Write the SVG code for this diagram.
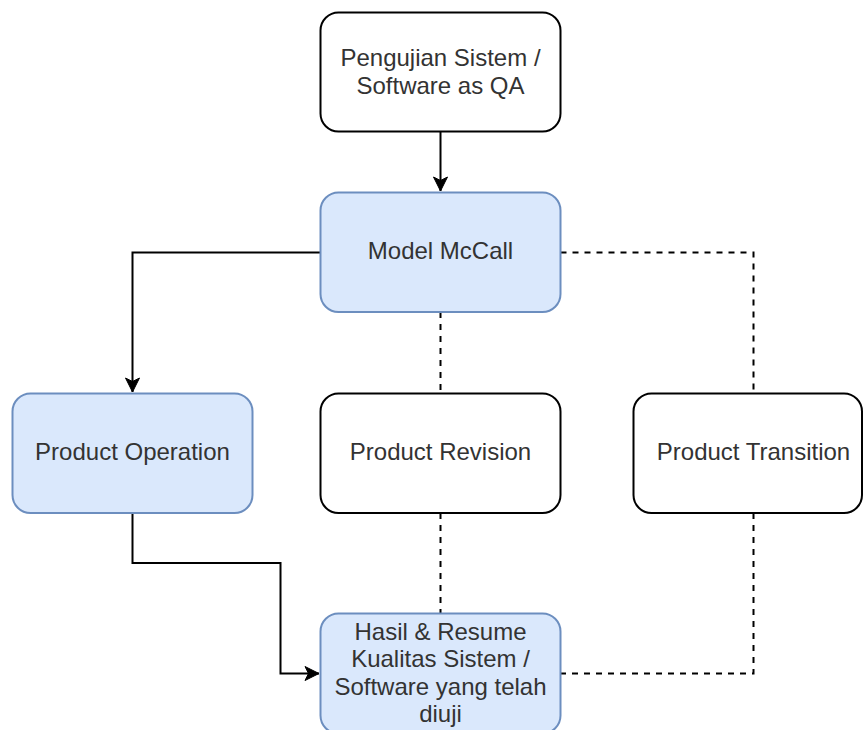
<svg xmlns="http://www.w3.org/2000/svg" width="863" height="730" viewBox="0 0 863 730">
  <style>
    .box { fill: #ffffff; stroke: #000000; stroke-width: 2; }
    .blue { fill: #dae8fc; stroke: #6c8ebf; stroke-width: 2; }
    .label { font-family: "Liberation Sans", Arial, Helvetica, sans-serif; font-size: 24px; fill: #333333; text-anchor: middle; }
    .edge { fill: none; stroke: #000000; stroke-width: 2; }
    .dash { stroke-dasharray: 6 6; }
  </style>
  <defs>
    <marker id="arrow" markerUnits="userSpaceOnUse" markerWidth="16" markerHeight="16" refX="15" refY="8" orient="auto">
      <path d="M15,8 L1,1 L4.5,8 L1,15 Z" fill="#000000" stroke="#000000" stroke-width="1"/>
    </marker>
  </defs>
  <rect width="863" height="730" fill="#ffffff"/>

  <!-- connectors -->
  <g id="connectors">
    <path class="edge" d="M440.5,131.5 L440.5,191" marker-end="url(#arrow)"/>
    <path class="edge" d="M320.5,252.5 L132.5,252.5 L132.5,392" marker-end="url(#arrow)"/>
    <path class="edge" d="M132.5,513 L132.5,563 L280.5,563 L280.5,673.5 L319,673.5" marker-end="url(#arrow)"/>
    <path class="edge dash" d="M440.5,312 L440.5,393"/>
    <path class="edge dash" d="M560.5,252.5 L753.5,252.5 L753.5,393"/>
    <path class="edge dash" d="M440.5,513 L440.5,613"/>
    <path class="edge dash" d="M753.5,513 L753.5,673.5 L560.5,673.5"/>
  </g>

  <g id="node-pengujian">
    <rect class="box" x="320.5" y="12.5" width="240" height="119" rx="18" ry="18"/>
    <text class="label" x="440.5" y="65.5">Pengujian Sistem /</text>
    <text class="label" x="440.5" y="94">Software as QA</text>
  </g>

  <g id="node-mccall">
    <rect class="blue" x="320.5" y="192.5" width="240" height="119.5" rx="18" ry="18"/>
    <text class="label" x="440.5" y="259">Model McCall</text>
  </g>

  <g id="node-operation">
    <rect class="blue" x="12.5" y="393.5" width="240" height="119.5" rx="18" ry="18"/>
    <text class="label" x="132.5" y="460">Product Operation</text>
  </g>

  <g id="node-revision">
    <rect class="box" x="320.5" y="393.5" width="240" height="119.5" rx="18" ry="18"/>
    <text class="label" x="440.5" y="460">Product Revision</text>
  </g>

  <g id="node-transition">
    <rect class="box" x="633.5" y="393.5" width="228.5" height="119.5" rx="18" ry="18"/>
    <text class="label" x="753.5" y="460">Product Transition</text>
  </g>

  <g id="node-hasil">
    <rect class="blue" x="320.5" y="613.5" width="240" height="120" rx="18" ry="18"/>
    <text class="label" x="440.5" y="639.5">Hasil &amp; Resume</text>
    <text class="label" x="440.5" y="667">Kualitas Sistem /</text>
    <text class="label" x="440.5" y="694.5">Software yang telah</text>
    <text class="label" x="440.5" y="722">diuji</text>
  </g>
</svg>
